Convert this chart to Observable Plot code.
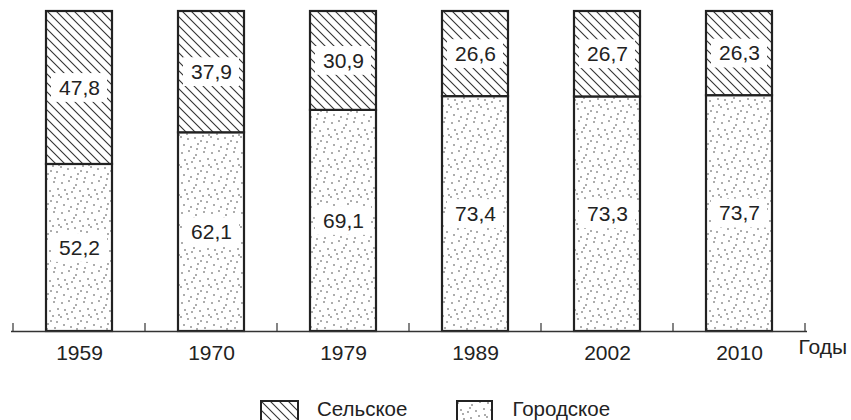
<!DOCTYPE html>
<html>
<head>
<meta charset="utf-8">
<script src="https://cdn.jsdelivr.net/npm/d3@7"></script>
<script src="https://cdn.jsdelivr.net/npm/@observablehq/plot@0.6"></script>
<style>
  body { margin: 0; background: #fff; font-family: "Liberation Sans", Arial, sans-serif; color: #222; }
  #chart svg { display: block; }
  #legend { display: flex; align-items: flex-start; height: 22px; padding-left: 260px; font-size: 20.5px; line-height: 20px; color: #222; }
  #legend svg { display: block; margin-top: 2px; }
  #legend .lbl { margin-top: 1px; }
</style>
</head>
<body>
<div id="chart"></div>
<div id="legend"></div>
<script>
// ---- data ----
const years = ["1959", "1970", "1979", "1989", "2002", "2010"];
const urban = [52.2, 62.1, 69.1, 73.4, 73.3, 73.7];   // Городское
const rural = [47.8, 37.9, 30.9, 26.6, 26.7, 26.3];   // Сельское
const seriesNames = ["Сельское", "Городское"];
const axisLabel = "Годы";

// ---- style ----
const INK = "#222";
const FS = 21;
const dotTile = [[2,3],[9,1],[16,5],[24,2],[28,9],[5,10],[12,12],[20,11],[1,17],[8,19],
                 [15,18],[23,16],[27,22],[4,25],[11,27],[18,24],[25,28],[14,8],[21,21],[7,14],[29,15],[17,29]];

const rows = years.map((year, i) => ({year, urban: urban[i], rural: rural[i]}));
const fmt = v => v.toFixed(1).replace(".", ",");
const HALF = 4.5; // half-height of label box, in percent units

function bandTicks(index, scales, values, dims) {
  const x = scales.x, y = scales.y;
  const step = x(years[1]) - x(years[0]);
  let bw = x.bandwidth;
  if (typeof bw === "function") bw = bw();
  if (typeof bw !== "number" || !isFinite(bw)) bw = step * 0.5;
  const gap = (step - bw) / 2;
  const xs = years.map(yr => x(yr) - gap);
  xs.push(x(years[years.length - 1]) + bw + gap);
  const y0 = y(0);
  const g = d3.create("svg:g");
  g.selectAll("line").data(xs).join("line")
    .attr("x1", d => d).attr("x2", d => d)
    .attr("y1", y0).attr("y2", y0 - 8)
    .attr("stroke", "#333").attr("stroke-width", 1.2);
  return g.node();
}

const plot = Plot.plot({
  width: 851,
  height: 398,
  marginTop: 11,
  marginBottom: 67,
  marginLeft: 11,
  marginRight: 44,
  style: {fontFamily: "'Liberation Sans', Arial, sans-serif", fontSize: FS + "px", color: INK, background: "#fff"},
  x: {domain: years, paddingInner: 0.5, paddingOuter: 0.25, axis: null, label: null},
  y: {domain: [0, 100], axis: null, label: null},
  marks: [
    Plot.barY(rows, {x: "year", y1: 0, y2: "urban", fill: "url(#dots)", stroke: INK, strokeWidth: 2.2}),
    Plot.barY(rows, {x: "year", y1: "urban", y2: d => d.urban + d.rural, fill: "url(#hatch)", stroke: INK, strokeWidth: 2.2}),
    Plot.barY(rows, {x: "year", y1: d => d.urban / 2 - HALF, y2: d => d.urban / 2 + HALF, fill: "white", insetLeft: 5, insetRight: 5}),
    Plot.barY(rows, {x: "year", y1: d => d.urban + d.rural / 2 - HALF, y2: d => d.urban + d.rural / 2 + HALF, fill: "white", insetLeft: 5, insetRight: 5}),
    Plot.text(rows, {x: "year", y: d => d.urban / 2, text: d => fmt(d.urban), fontSize: FS, fill: INK}),
    Plot.text(rows, {x: "year", y: d => d.urban + d.rural / 2, text: d => fmt(d.rural), fontSize: FS, fill: INK}),
    Plot.ruleY([0], {stroke: "#333", strokeWidth: 1.5}),
    bandTicks,
    Plot.axisX({tickSize: 0, tickPadding: 14, fontSize: FS, fill: INK, label: null}),
    Plot.text([axisLabel], {frameAnchor: "bottom-right", dx: -9, dy: 22.3, textAnchor: "start", fontSize: FS, fill: INK})
  ]
});

const defs = `<defs>
  <pattern id="hatch" patternUnits="userSpaceOnUse" width="9" height="9">
    <rect width="9" height="9" fill="white"/>
    <path d="M0,0L9,9M-1,8L1,10M8,-1L10,1" stroke="#333" stroke-width="1.1"/>
  </pattern>
  <pattern id="dots" patternUnits="userSpaceOnUse" width="30" height="30">
    <rect width="30" height="30" fill="white"/>
    ${dotTile.map(([cx, cy]) => `<circle cx="${cx}" cy="${cy}" r="0.8" fill="#444"/>`).join("")}
  </pattern>
</defs>`;
plot.insertAdjacentHTML("afterbegin", defs);
document.getElementById("chart").appendChild(plot);

// ---- legend ----
const legend = document.getElementById("legend");
legend.innerHTML = `
  <svg width="39" height="22"><rect x="1" y="1" width="37" height="24" fill="url(#hatch)" stroke="${INK}" stroke-width="2"/></svg>
  <span class="lbl" style="margin-left:18px">${seriesNames[0]}</span>
  <svg width="37" height="22" style="margin-left:49px"><rect x="1" y="1" width="35" height="24" fill="url(#dots)" stroke="${INK}" stroke-width="2"/></svg>
  <span class="lbl" style="margin-left:19px">${seriesNames[1]}</span>`;
</script>
</body>
</html>
